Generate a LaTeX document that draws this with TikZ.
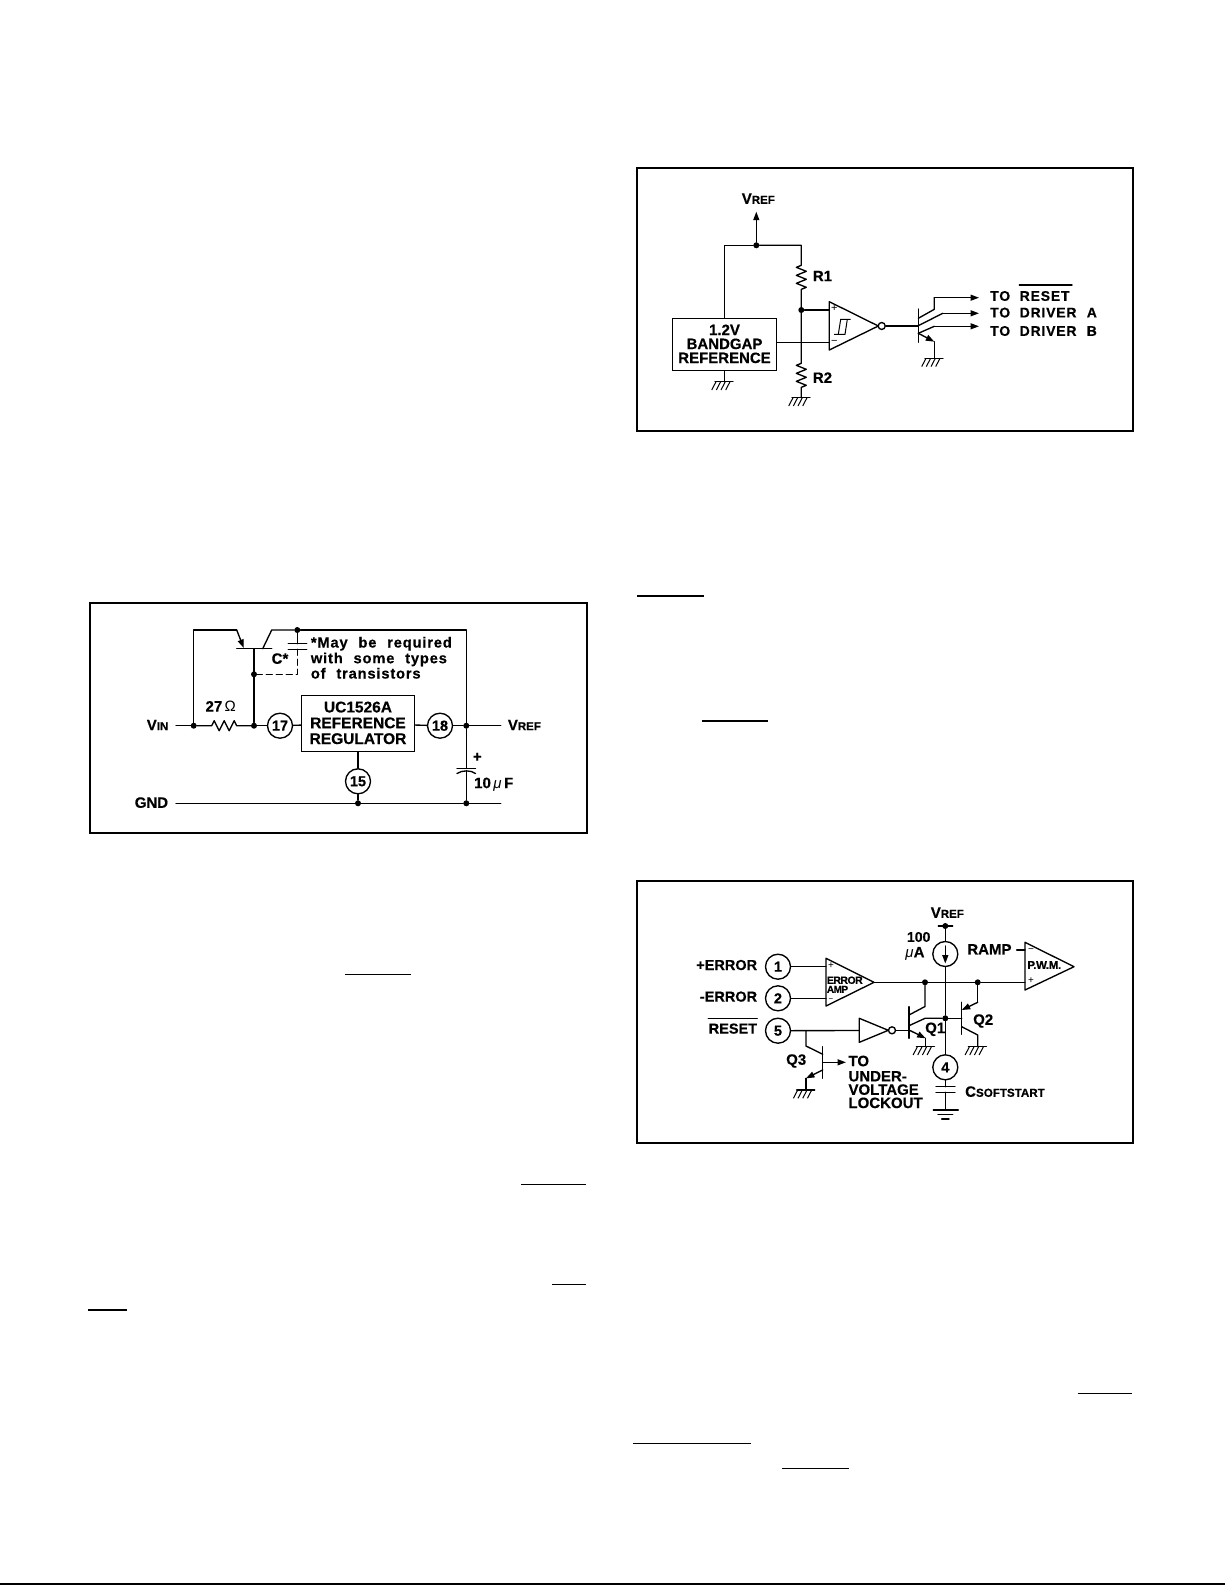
\documentclass[tikz,border=0pt]{standalone}
\usepackage{fontspec}
\setmainfont{Liberation Sans}[BoldFeatures={FakeBold=0.4}]
\newfontfamily\wide[LetterSpace=5.6,WordSpace=2.2,BoldFeatures={FakeBold=0.4}]{Liberation Sans}
\usetikzlibrary{arrows.meta}
\newcommand{\lab}[1]{\bfseries\fontsize{#1}{#1}\selectfont}
\newcommand{\Vn}[2]{{\fontsize{15}{15}\selectfont #1}{\fontsize{11.5}{11.5}\selectfont #2}}
\tikzset{
  wire/.style={line width=1.35pt,line cap=round,line join=round},
  frame/.style={line width=2.2pt},
  flow/.style={wire,-{Triangle[length=8.5pt,width=6pt]}},
  jn/.style={circle,fill=black,inner sep=0pt,minimum size=6pt},
  pinc/.style={circle,draw,line width=1.35pt,fill=white,inner sep=0pt,minimum size=25pt,font=\lab{14.5}},
  blk/.style={draw,line width=1.35pt,inner sep=0pt,align=center,text depth=1.4pt},
  bub/.style={circle,draw,line width=1.35pt,fill=white,inner sep=0pt,minimum size=7pt},
  tw/.style={inner sep=0pt,anchor=west,font=\lab{15},yshift=0.7pt},
  te/.style={inner sep=0pt,anchor=east,font=\lab{15},yshift=0.7pt},
  tc/.style={inner sep=0pt,font=\lab{15},yshift=0.7pt},
  tn/.style={inner sep=0pt,anchor=west,font=\lab{14.7}\wide,text height=10pt,text depth=0pt,yshift=0.8pt},
  pm/.style={inner sep=0pt,font=\fontsize{11}{11}\selectfont,text height=4pt,text depth=0pt},
  ulbar/.style={line width=1.6pt},
  gnd/.pic={\draw[wire] (-9.3,0)--(8.7,0);
    \foreach \q in {-8.3,-3.7,1,5.7}{\draw[line width=1pt] (\q,0)--++(-4.3,8.3);}}
}
\begin{document}
\begin{tikzpicture}[x=1pt,y=-1pt]
\useasboundingbox (0,0) rectangle (1225,1585);
\fill[white] (0,0) rectangle (1225,1585);

% ---------- stray text-overlines of the page
\foreach \a/\b/\c in {637/704/596,702/768/721,345/411/974.3,521/586/1184.3,552/586/1284.3,88/127/1309.7,1078/1132/1393.3,633/751/1443.3,782/849/1468.3}
  \draw[ulbar] (\a,\c)--(\b,\c);
\draw[line width=2.2pt] (0,1584.2)--(1225,1584.2);

% ========== PANEL 1
\draw[frame] (90,603) rectangle (587,833);
\coordinate (vinL) at (176,725.7);
\coordinate (vrefR) at (500.7,725.7);
\coordinate (gndL) at (176,803.3);
\coordinate (gndR) at (500.7,803.3);
\node[jn] (a1) at (193.7,725.7){};
\node[jn] (a2) at (254,725.7){};
\node[jn] (a3) at (466.3,725.7){};
\node[jn] (a4) at (358,803.3){};
\node[jn] (a5) at (466.3,803.3){};
\node[jn] (a6) at (297.3,630){};
\node[jn] (a7) at (254,674.3){};
\node[pinc] (p17) at (280,725.7){17};
\node[pinc] (p18) at (440,725.7){18};
\node[pinc] (p15) at (358,781.3){15};
\node[blk,minimum width=112.6pt,minimum height=56.4pt,font=\lab{16}\fontsize{15.5}{15.8}\selectfont] (reg) at (358,723.5){UC1526A\\REFERENCE\\REGULATOR};
\node[te] (tvin) at (168.5,725.7){\Vn{V}{IN}};
\node[te] (tgnd) at (168.3,803.3){GND};
\node[tw] (tvref1) at (507.7,725.7){\Vn{V}{REF}};
\node[tc] (t27) at (220.7,707){27$\,$\fontsize{15}{15}\selectfont\normalfont Ω};
\node[tc] (tcs) at (280,659.3){C*};
\node[tn] (n1) at (310.7,643.3){*May be required};
\node[tn] (n2) at (310.7,659){with some types};
\node[tn] (n3) at (310.7,674.3){of transistors};
\node[tc] (tplus) at (477.3,758){+};
\node[tw] (t10u) at (474,785){10{\normalfont\itshape\,μ\,}F};
% base & resistor
\draw[wire] (vinL)--(a1);
\draw[wire] (a1)--++(18,0)--++(2.5,-5)--++(5,10)--++(5,-10)--++(5,10)--++(5,-10)--++(2.5,5)--(a2);
\draw[wire] (a2)--(p17);
\draw[wire] (p17)--(reg);
\draw[wire] (reg)--(p18);
\draw[wire] (p18)--(a3);
\draw[wire] (a3)--(vrefR);
\draw[wire] (reg.south -| p15)--(p15);
\draw[wire] (p15)--(a4);
\draw[wire] (gndL)--(a4);
\draw[wire] (a4)--(a5);
\draw[wire] (a5)--(gndR);
% pass transistor
\coordinate (q0b) at (254,648.7);
\draw[wire] (a1)--(193.7,630)--(236.7,630);
\draw[flow] (236.7,630)--(243.8,648);
\draw[wire] (236.7,648.7)--(271.7,648.7);
\draw[wire] (a2)--(q0b);
\draw[wire] (262.7,648.7)--(271.7,630)--(a6);
\draw[wire] (a6)--(466.3,630)--(a3);
\draw[wire] (a6)--(297.3,643.7);
\draw[wire] (288.3,643.7)--(306.7,643.7);
\draw[wire] (288.3,649.3)--(306.7,649.3);
\draw[wire,dash pattern=on 6pt off 4pt] (297.3,649.3)--(297.3,674.3)--(a7);
% output capacitor
\draw[wire] (a3)--(466.3,768.5);
\draw[wire] (457,768.5)--(475.5,768.5);
\draw[wire] (457,773.5) .. controls (462,770) and (471,770) .. (475.5,773.5);
\draw[wire] (466.3,771)--(a5);

% ========== PANEL 2
\draw[frame] (636.7,168.3) rectangle (1133.3,430.7);
\node[jn] (b1) at (756.3,245.3){};
\node[jn] (b2) at (801.3,310){};
\node[blk,minimum width=104.4pt,minimum height=52.4pt,font=\lab{15}\fontsize{15}{14}\selectfont] (bg) at (724.5,344.5){1.2V\\BANDGAP\\REFERENCE};
\node[tc] (tv2) at (758.3,199.3){\Vn{V}{REF}};
\node[tw] (tr1) at (812.7,276.7){R1};
\node[tw] (tr2) at (812.7,378.3){R2};
\node[pm] at (834.3,309.3) (cp){+};
\node[pm] at (834.3,342.3) (cm){−};
\node[tw,font=\lab{14}\wide] (to1) at (990,296.7){TO};
\node[tw,font=\lab{14}\wide] (rs1) at (1019.5,296.7){RESET};
\node[tw,font=\lab{14}\wide] (to2) at (990,313.3){TO};
\node[tw,font=\lab{14}\wide] (dr2) at (1019.5,313.3){DRIVER A};
\node[tw,font=\lab{14}\wide] (to3) at (990,331.7){TO};
\node[tw,font=\lab{14}\wide] (dr3) at (1019.5,331.7){DRIVER B};
\draw[wire] (1019.3,285)--(1072,285);
\coordinate (top1) at (724.3,245.3);
\coordinate (top2) at (801.3,245.3);
\coordinate (vt) at (756.3,211.7);
\draw[flow] (b1)--(vt);
\draw[wire] (b1)--(top1)--(bg.north -| top1);
\draw[wire] (b1)--(top2)--(801.3,265.3)--++(-5,2)--++(10,4)--++(-10,4)--++(10,4)--++(-10,4)--++(10,4)--++(-5,2)--(b2);
\draw[wire] (b2)--(801.3,363.3)--++(-5,2)--++(10,4)--++(-10,4)--++(10,4)--++(-10,4)--++(10,4)--++(-5,2)--(801.3,397.7);
\pic at (801.3,397.7) {gnd};
\coordinate (g2) at (724.3,381.7);
\draw[wire] (bg.south -| g2)--(g2);
\pic at (g2) {gnd};
% comparator
\coordinate (k1) at (829.3,301.7);
\coordinate (k2) at (829.3,350);
\coordinate (k3) at (878.3,326);
\draw[wire] (k1)--(k2)--(k3)--cycle;
\node[bub] (kb) at (881.7,326){};
\draw[wire] (b2)--(829.3,310);
\draw[wire] (bg.east |- 0,342.3)--(829.3,342.3);
\draw[line width=1pt] (834,334.3)--(845,334.3)--(847.3,319.3);
\draw[line width=1pt] (838.3,334.3)--(840.7,319.3)--(850.7,319.3);
% transistor
\coordinate (tb) at (918.3,326);
\draw[wire] (kb)--(tb);
\draw[wire] (918.3,309)--(918.3,342.3);
\draw[wire] (918.3,318.3)--(934.3,309.3)--(934.3,297.7);
\draw[flow] (934.3,297.7)--(979,297.7);
\draw[wire] (918.3,325.7)--(942.7,313.3);
\draw[flow] (942.7,313.3)--(979,313.3);
\draw[wire] (918.3,333.3)--(934.3,326.3);
\draw[flow] (934.3,326.3)--(979,326.3);
\draw[flow] (918.3,333.3)--(934.3,341.7);
\draw[wire] (934.3,341.7)--(934.3,358.3);
\pic at (934.3,358.3) {gnd};

% ========== PANEL 3
\draw[frame] (636.7,880.7) rectangle (1133.3,1142.7);
\node[pinc] (c1) at (778,966.7){1};
\node[pinc] (c2) at (778,998.3){2};
\node[pinc] (c5) at (778,1030.7){5};
\node[pinc] (c4) at (945.3,1067.3){4};
\node[pinc] (src) at (945.3,954){};
\node[jn] (e1) at (945.3,926){};
\node[jn] (e2) at (925,982.3){};
\node[jn] (e3) at (977.7,982.3){};
\node[jn] (e4) at (945.3,1018.3){};
\node[tc] (tv3) at (947.3,913.3){\Vn{V}{REF}};
\node[tc,font=\lab{14}] (t100) at (918.7,937.7){100};
\node[tc] (tua) at (915,954.3){{\normalfont\itshape μ}A};
\node[te] (tramp) at (1011.7,950){RAMP};
\node[te,font=\lab{14.5}] (tpe) at (757.3,965.7){+ERROR};
\node[te,font=\lab{14.5}] (tme) at (757.3,997.3){-ERROR};
\node[te,font=\lab{14.5}] (trs) at (757.3,1029.3){RESET};
\draw[wire] (708.3,1018.3)--(757.3,1018.3);
\node[tw] (tq3) at (786,1061.7){Q3};
\node[tw] (tq1) at (925,1030){Q1};
\node[tw] (tq2) at (973,1021.7){Q2};
\node[tw] (tt) at (848.3,1061.7){TO};
\node[tw] (tu) at (848.3,1077){UNDER-};
\node[tw] (tvl) at (848.3,1090.3){VOLTAGE};
\node[tw] (tl) at (848.3,1103.6){LOCKOUT};
\node[tw] (tcss) at (965,1092.3){{\fontsize{15}{15}\selectfont C}{\fontsize{11.6}{11.6}\selectfont SOFTSTART}};
% wires to the error amp
\coordinate (ea1) at (826,958.3);
\coordinate (ea2) at (826,1006);
\coordinate (ea3) at (874,982.3);
\draw[wire] (ea1)--(ea2)--(ea3)--cycle;
\node[pm,font=\fontsize{10}{10}\selectfont] (ep) at (831,966.7){+};
\node[pm,font=\fontsize{8}{8}\selectfont] (em) at (831,999.6){−};
\node[inner sep=0pt,anchor=west,font=\lab{10.5}\addfontfeature{LetterSpace=-5}] (ear) at (826.7,980.2){ERROR};
\node[inner sep=0pt,anchor=west,font=\lab{10}\addfontfeature{LetterSpace=-5}] (eam) at (826.7,989.3){AMP};
\draw[wire] (c1)--(826,966.7);
\draw[wire] (c2)--(826,998.3);
% PWM
\coordinate (pw1) at (1025,942.3);
\coordinate (pw2) at (1025,990);
\coordinate (pw3) at (1074,966.7);
\draw[wire] (pw1)--(pw2)--(pw3)--cycle;
\node[pm,font=\fontsize{10}{10}\selectfont] (pp) at (1031,981.7){+};
\node[pm,font=\fontsize{10}{10}\selectfont] (pn) at (1031,950.7){−};
\node[tc,font=\lab{11.5}\addfontfeature{LetterSpace=-3}] (tpwm) at (1044.3,965.7){P.W.M.};
\draw[wire] (1016.7,950)--(1025,950);
\draw[wire] (ea3)--(e2);
\draw[wire] (e2)--(e3);
\draw[wire] (e3)--(1025,982.3);
% vertical through current source
\draw[wire] (938.3,926)--(952.7,926);
\draw[wire] (e1)--(src);
\draw[flow] (945.3,946)--(945.3,963.5);
\draw[wire] (src)--(e4);
\draw[wire] (e4)--(c4);
% capacitor & earth
\draw[wire] (c4)--(945.3,1086.7);
\draw[wire] (936,1086.7)--(955,1086.7);
\draw[wire] (936,1092.3)--(955,1092.3);
\draw[wire] (945.3,1092.3)--(945.3,1110);
\draw[wire] (933.3,1110)--(958.3,1110);
\draw[wire] (938,1114.5)--(952.7,1114.5);
\draw[wire] (941.7,1119)--(949,1119);
% inverter
\coordinate (iv1) at (859.3,1018.3);
\coordinate (iv2) at (859.3,1042.3);
\coordinate (iv3) at (888.3,1030.3);
\draw[wire] (iv1)--(iv2)--(iv3)--cycle;
\node[bub] (ivb) at (892,1030.3){};
\draw[wire] (c5)--(859.3,1030.5);
\coordinate (q1b) at (909,1030.3);
\draw[wire] (ivb)--(q1b);
% Q1
\draw[wire] (909,1006.7)--(909,1038.3);
\draw[wire] (909,1015)--(925,1006.5)--(e2);
\draw[wire] (909,1025.7)--(925,1018.3)--(e4);
\draw[flow] (909,1030)--(925.7,1038.3);
\draw[wire] (925.7,1038.3)--(925.7,1046.7);
\pic at (925.7,1046.7) {gnd};
% Q2
\draw[wire] (961.7,1002.3)--(961.7,1034.3);
\draw[wire] (e4)--(961.7,1018.3);
\draw[wire] (e3)--(977.7,1002.3);
\draw[flow] (977.7,1002.3)--(961.7,1010);
\draw[wire] (961.7,1026.7)--(977.7,1035)--(977.7,1046.7);
\pic at (977.7,1046.7) {gnd};
% Q3
\draw[wire] (822.7,1046.7)--(822.7,1078.3);
\draw[wire] (806,1030.7)--(806,1046)--(822.7,1054.3);
\draw[flow] (822.7,1062.3)--(846,1062.3);
\draw[flow] (822.7,1070)--(806,1078.3);
\draw[wire] (806,1078.3)--(806,1090);
\pic at (806,1090) {gnd};
\end{tikzpicture}
\end{document}
